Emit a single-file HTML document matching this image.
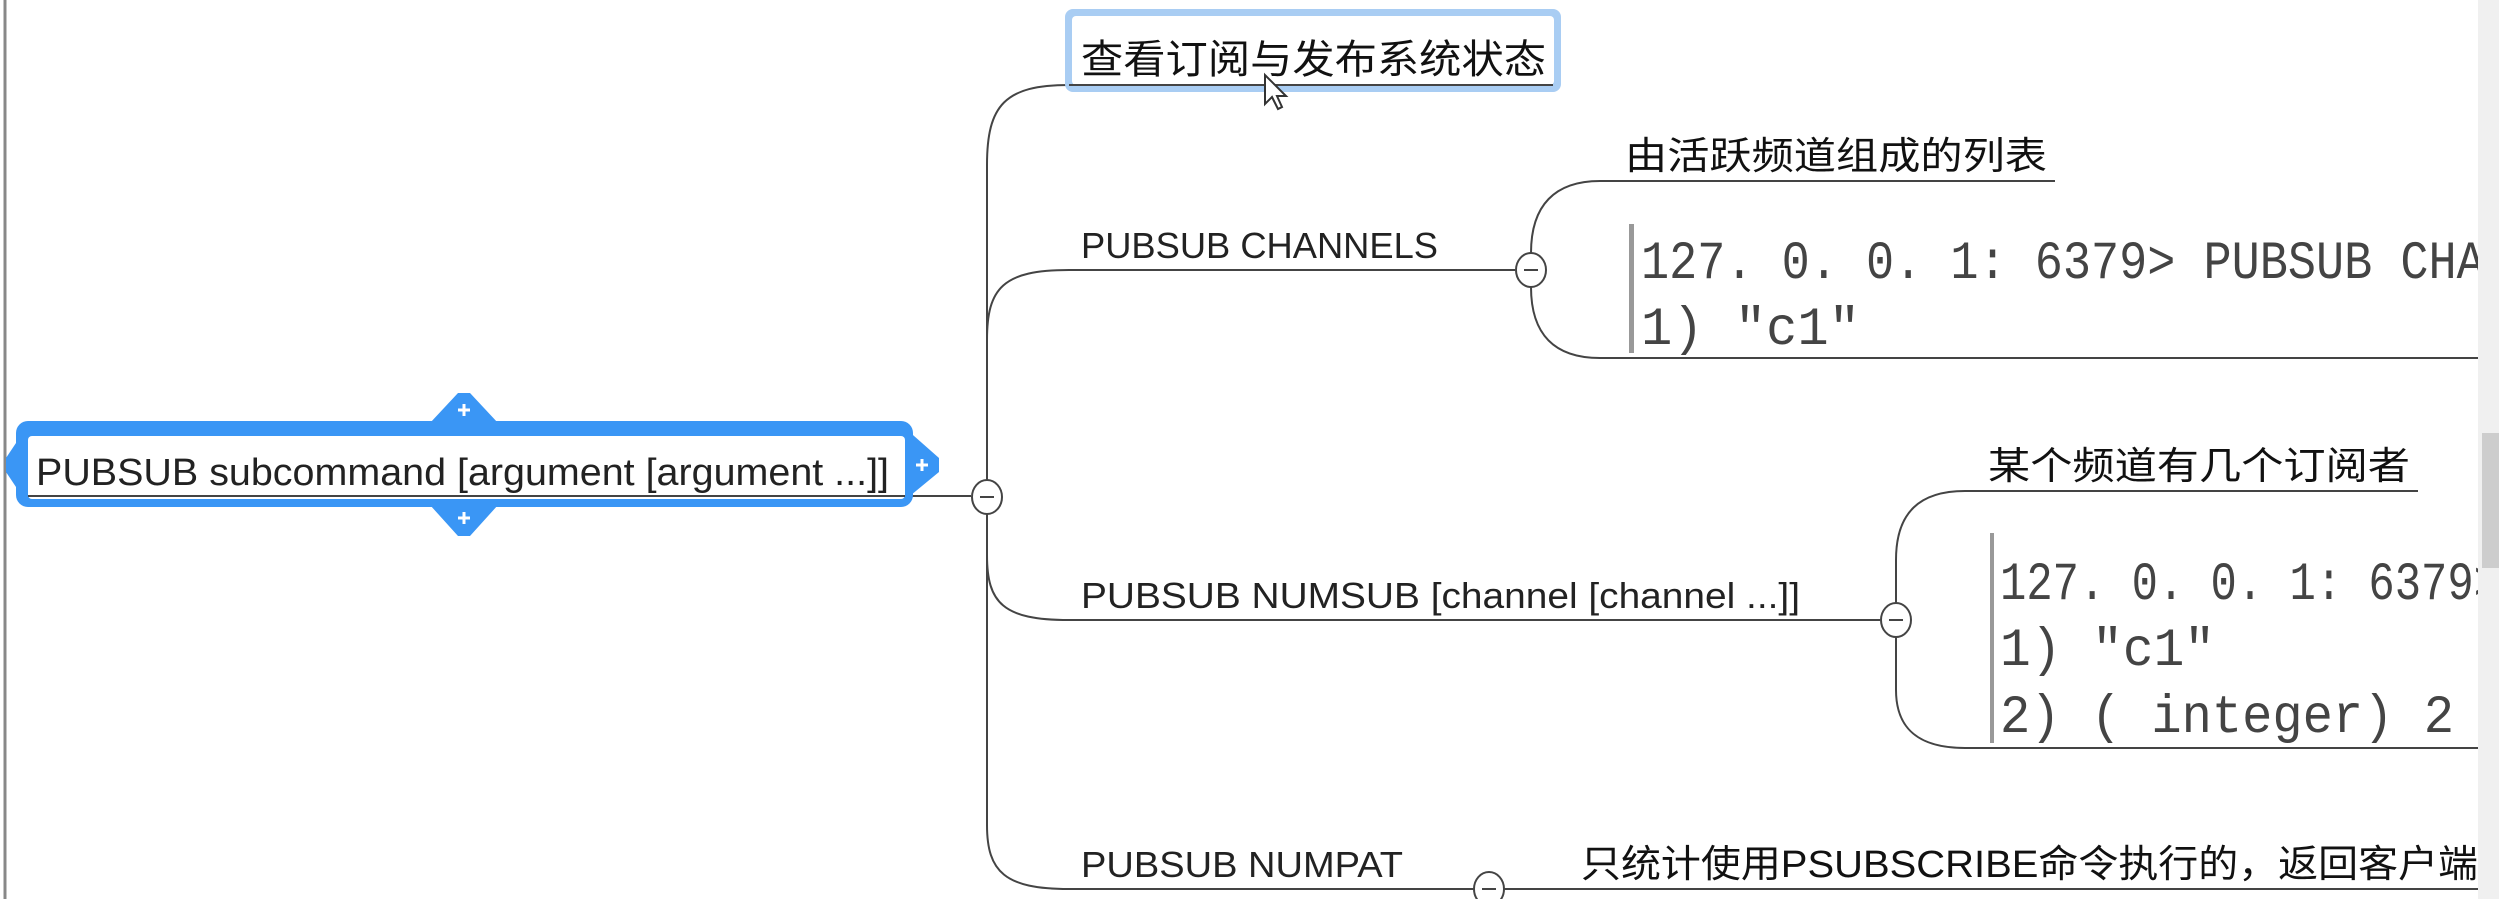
<!DOCTYPE html>
<html><head><meta charset="utf-8"><style>
html,body{margin:0;padding:0;background:#fff;width:2499px;height:899px;overflow:hidden}
svg{display:block}
.l{font-family:"Liberation Sans","Noto Sans CJK SC",sans-serif;fill:#222}
.c{font-family:"Liberation Sans","Noto Sans CJK SC",sans-serif;fill:#111}
.m{font-family:"Liberation Mono","DejaVu Sans Mono",monospace;fill:#444}
</style></head><body>
<svg width="2499" height="899" viewBox="0 0 2499 899" xmlns="http://www.w3.org/2000/svg">
<rect x="0" y="0" width="2499" height="899" fill="#fff"/>
<line x1="5" y1="0" x2="5" y2="899" stroke="#888" stroke-width="3"/>

<g fill="none" stroke="#444" stroke-width="2">
<path d="M1069,85 C1005,85 987,105 987,165 L987,825 C987,872 1005,889 1069,889 L1475,889"/>
<path d="M987,340 C987,288 1003,270 1069,270 L1515,270"/>
<path d="M987,555 C987,603 1003,620 1069,620 L1880,620"/>
<line x1="909" y1="496" x2="971" y2="496"/>
<path d="M1531,253 C1531,205 1555,181 1600,181 L2055,181"/>
<path d="M1531,287 C1531,335 1555,358 1600,358 L2478,358"/>
<path d="M1896,603 L1896,560 C1896,512 1920,491 1965,491 L2418,491"/>
<path d="M1896,637 L1896,690 C1896,730 1920,748 1965,748 L2478,748"/>
<line x1="1503" y1="889" x2="2478" y2="889"/>
</g>
<g fill="#fff" stroke="#444" stroke-width="2">
<ellipse cx="987" cy="497" rx="15" ry="17"/>
<ellipse cx="1531" cy="270" rx="15" ry="17"/>
<ellipse cx="1896" cy="620" rx="15" ry="17"/>
<ellipse cx="1489" cy="889" rx="15" ry="17"/>
</g>
<g stroke="#444" stroke-width="2">
<line x1="980" y1="497" x2="994" y2="497"/>
<line x1="1524" y1="270" x2="1538" y2="270"/>
<line x1="1889" y1="620" x2="1903" y2="620"/>
<line x1="1482" y1="889" x2="1496" y2="889"/>
</g>

<!-- root node -->
<path d="M430,423 L458,393 L470,393 L498,423 Z" fill="#3a96f5"/>
<path d="M430,505 L458,536 L470,536 L498,505 Z" fill="#3a96f5"/>
<path d="M905,428 L939,458 L939,472 L905,500 Z" fill="#3a96f5"/>
<path d="M18,440 L6,458 L6,472 L18,490 Z" fill="#3a96f5"/>
<rect x="16" y="421" width="897" height="86" rx="12" fill="#3a96f5"/>
<rect x="28" y="436" width="877" height="63" rx="4" fill="#fff"/>
<line x1="28" y1="496" x2="905" y2="496" stroke="#444" stroke-width="2"/>
<text x="36" y="485" class="l" font-size="38" textLength="853" lengthAdjust="spacingAndGlyphs">PUBSUB subcommand [argument [argument ...]]</text>
<g stroke="#fff" stroke-width="3">
<line x1="458" y1="410" x2="470" y2="410"/><line x1="464" y1="404" x2="464" y2="416"/>
<line x1="458" y1="518" x2="470" y2="518"/><line x1="464" y1="512" x2="464" y2="524"/>
<line x1="916" y1="465" x2="928" y2="465"/><line x1="922" y1="459" x2="922" y2="471"/>
</g>

<!-- top node -->
<rect x="1065" y="9" width="496" height="83" rx="8" fill="#a9cdf3"/>
<rect x="1072" y="16" width="482" height="69" rx="4" fill="#fff"/>
<line x1="1069" y1="85" x2="1553" y2="85" stroke="#444" stroke-width="2"/>
<text x="1081" y="73" class="c" font-size="40" textLength="465" lengthAdjust="spacingAndGlyphs">查看订阅与发布系统状态</text>
<path d="M1265,75 L1265,104 L1272,97 L1278,109 L1282,107 L1277,96 L1286,96 Z" fill="#fff" stroke="#333" stroke-width="2"/>

<text x="1081" y="258" class="l" font-size="36" textLength="357" lengthAdjust="spacingAndGlyphs">PUBSUB CHANNELS</text>
<text x="1081" y="608" class="l" font-size="36" textLength="719" lengthAdjust="spacingAndGlyphs">PUBSUB NUMSUB  [channel [channel ...]]</text>
<text x="1081" y="877" class="l" font-size="36" textLength="322" lengthAdjust="spacingAndGlyphs">PUBSUB NUMPAT</text>

<text x="1625" y="169" class="c" font-size="38" textLength="422" lengthAdjust="spacingAndGlyphs">由活跃频道组成的列表</text>
<text x="1988" y="479" class="c" font-size="38" textLength="422" lengthAdjust="spacingAndGlyphs">某个频道有几个订阅者</text>
<text x="1581" y="877" class="c" font-size="38" textLength="897" lengthAdjust="spacingAndGlyphs">只统计使用PSUBSCRIBE命令执行的，返回客户端</text>

<rect x="1629" y="224" width="5" height="129" fill="#999"/>
<text x="1641" y="278" class="m" font-size="54" textLength="900" lengthAdjust="spacingAndGlyphs">127. 0. 0. 1: 6379&gt;  PUBSUB  CHANN</text>
<text x="1641" y="344" class="m" font-size="54" textLength="219" lengthAdjust="spacingAndGlyphs">1)  "c1"</text>
<rect x="1990" y="533" width="4" height="210" fill="#999"/>
<text x="2000" y="599" class="m" font-size="54" textLength="500" lengthAdjust="spacingAndGlyphs">127. 0. 0. 1: 6379&gt;</text>
<text x="2000" y="665" class="m" font-size="54" textLength="215" lengthAdjust="spacingAndGlyphs">1)  "c1"</text>
<text x="2000" y="732" class="m" font-size="54" textLength="454" lengthAdjust="spacingAndGlyphs">2)  ( integer)  2</text>
<rect x="2478" y="0" width="21" height="899" fill="#f0f0f0"/>
<rect x="2482" y="433" width="17" height="135" fill="#cdcdcd"/>
</svg>
</body></html>
